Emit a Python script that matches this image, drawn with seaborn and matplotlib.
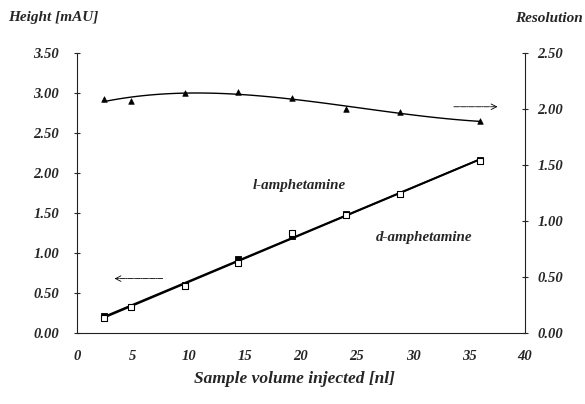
import numpy as np
import pandas as pd
import matplotlib
matplotlib.use("Agg")
import matplotlib.pyplot as plt
import seaborn as sns

# Data
volume = [2.4, 4.8, 9.6, 14.4, 19.2, 24.0, 28.8, 36.0]
height_l = [0.19, 0.33, 0.59, 0.88, 1.25, 1.47, 1.74, 2.15]
height_d = [0.21, 0.33, 0.60, 0.92, 1.21, 1.49, 1.74, 2.16]
resolution = [2.09, 2.07, 2.14, 2.15, 2.10, 2.00, 1.97, 1.89]

x_ticks = [0, 5, 10, 15, 20, 25, 30, 35, 40]
left_ticks = [0.0, 0.5, 1.0, 1.5, 2.0, 2.5, 3.0, 3.5]
right_ticks = [0.0, 0.5, 1.0, 1.5, 2.0, 2.5]

sns.set_style("white")
plt.rcParams['font.family'] = ['Liberation Serif', 'DejaVu Serif']
plt.rcParams['font.weight'] = 'bold'
plt.rcParams['font.style'] = 'italic'

df = pd.DataFrame({"volume": volume, "height_l": height_l,
                   "height_d": height_d, "resolution": resolution})

fig = plt.figure(figsize=(5.85, 4.04), dpi=100)
ax = fig.add_axes([77/585, 1-333/404, (525-77)/585, (333-53)/404])
ax2 = ax.twinx()

# Height series (left axis)
sns.regplot(data=df, x="volume", y="height_l", order=1, ci=None, scatter=False,
            ax=ax, line_kws=dict(color="black", lw=1.3))
sns.regplot(data=df, x="volume", y="height_d", order=1, ci=None, scatter=False,
            ax=ax, line_kws=dict(color="black", lw=1.3))
sns.scatterplot(data=df, x="volume", y="height_d", ax=ax, marker="s", s=18,
                color="black", edgecolor="black", linewidth=0.6, zorder=3)
sns.scatterplot(data=df, x="volume", y="height_l", ax=ax, marker="s", s=22,
                facecolor="white", edgecolor="black", linewidth=0.8, zorder=4)

# Resolution series (right axis)
sns.regplot(data=df, x="volume", y="resolution", order=3, ci=None, scatter=False,
            ax=ax2, line_kws=dict(color="black", lw=1.0))
sns.scatterplot(data=df, x="volume", y="resolution", ax=ax2, marker="^", s=16,
                color="black", edgecolor="black", linewidth=0.5, zorder=3)

ax.set_xlim(0, 40)
ax.set_ylim(0, 3.5)
ax2.set_ylim(0, 2.5)
ax.set_xticks(x_ticks)
ax.set_yticks(left_ticks)
ax2.set_yticks(right_ticks)
ax.set_xticklabels([str(t) for t in x_ticks])
ax.set_yticklabels([f"{t:.2f}" for t in left_ticks])
ax2.set_yticklabels([f"{t:.2f}" for t in right_ticks])
ax.set_xlabel("")
ax.set_ylabel("")
ax2.set_ylabel("")

for a in (ax, ax2):
    for s in a.spines.values():
        s.set_linewidth(0.8)
        s.set_color("#222222")
    a.spines["top"].set_visible(False)
ax.spines["right"].set_visible(False)
ax2.spines["left"].set_visible(False)
ax2.spines["bottom"].set_visible(False)

ax.tick_params(axis="both", direction="inout", length=4, width=0.8, pad=11,
               labelsize=10.5)
ax.tick_params(axis="x", pad=10)
ax2.tick_params(axis="y", direction="inout", length=4, width=0.8, pad=7,
                labelsize=10.5)
for lbl in ax.get_xticklabels() + ax.get_yticklabels() + ax2.get_yticklabels():
    lbl.set_fontweight("bold")
    lbl.set_fontstyle("italic")

# Axis titles
fig.text(8/585, 1-18/404, "Height [mAU]", fontsize=11, fontweight="bold",
         fontstyle="italic", va="center", ha="left")
fig.text(583/585, 1-18/404, "Resolution", fontsize=11, fontweight="bold",
         fontstyle="italic", va="center", ha="right")
fig.text(294/585, 1-379/404, "Sample volume injected [nl]", fontsize=12.5,
         fontweight="bold", fontstyle="italic", va="center", ha="center")

# Series labels
ax.text(19.8, 1.85, "l-amphetamine", fontsize=10.8, fontweight="bold",
        fontstyle="italic", ha="center", va="center")
ax.text(31.0, 1.2, "d-amphetamine", fontsize=10.8, fontweight="bold",
        fontstyle="italic", ha="center", va="center")

# Arrows
ax.annotate("", xy=(3.1, 0.68), xytext=(7.9, 0.68),
            arrowprops=dict(arrowstyle="->", color="black", lw=0.6,
                            linestyle=(0, (6, 1, 1, 1))))
ax2.annotate("", xy=(37.8, 2.02), xytext=(33.4, 2.02),
             arrowprops=dict(arrowstyle="->", color="black", lw=0.6,
                             linestyle=(0, (6, 1, 1, 1))))

fig.savefig("out.png", dpi=100)
